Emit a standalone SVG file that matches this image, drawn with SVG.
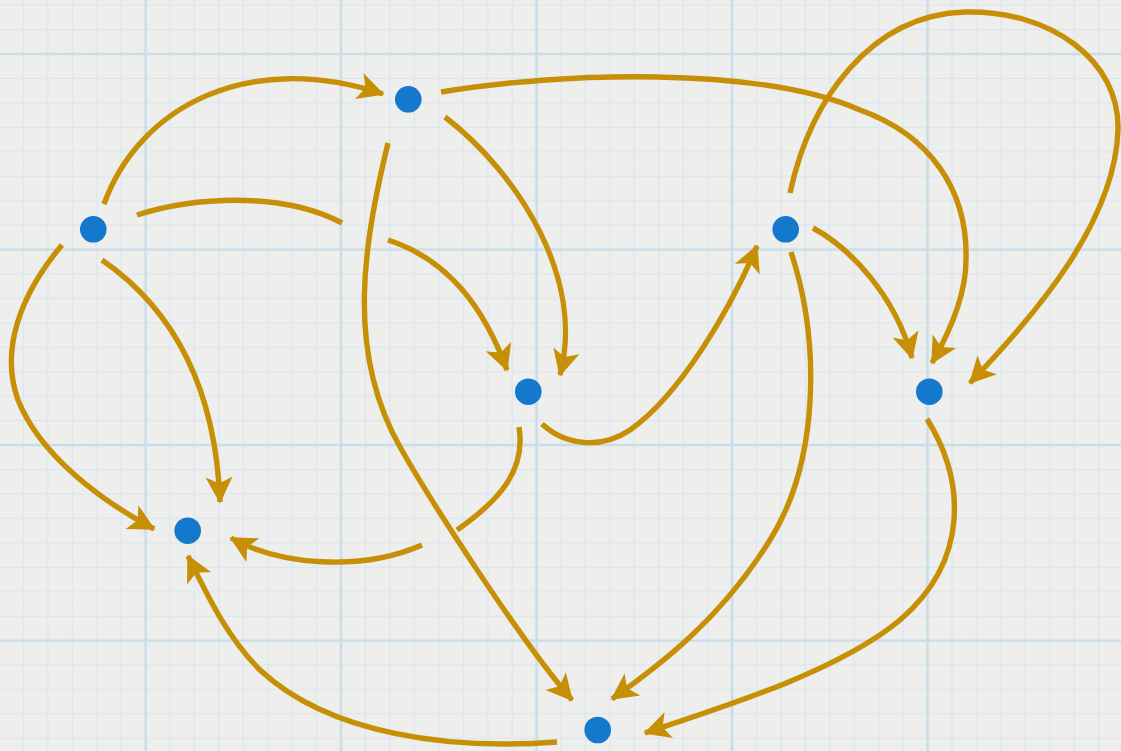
<svg xmlns="http://www.w3.org/2000/svg" width="1121" height="751" viewBox="0 0 1121 751">
<style>
.edge{fill:none;stroke:#C68F06;stroke-width:5.4;stroke-linecap:butt}
.arr{marker-end:url(#ah)}
.node{fill:#1478CC}
.minor{stroke:#d8e5ee;stroke-width:1.2}
.major{stroke:#c9dde9;stroke-width:2.6}
</style>
<defs>
<pattern id="grid" patternUnits="userSpaceOnUse" x="145.5" y="54" width="195.52" height="195.52">
<g class="minor">
<line x1="24.44" y1="0" x2="24.44" y2="195.52"/><line x1="48.88" y1="0" x2="48.88" y2="195.52"/><line x1="73.32" y1="0" x2="73.32" y2="195.52"/><line x1="97.76" y1="0" x2="97.76" y2="195.52"/><line x1="122.2" y1="0" x2="122.2" y2="195.52"/><line x1="146.64" y1="0" x2="146.64" y2="195.52"/><line x1="171.08" y1="0" x2="171.08" y2="195.52"/>
<line y1="24.44" x1="0" y2="24.44" x2="195.52"/><line y1="48.88" x1="0" y2="48.88" x2="195.52"/><line y1="73.32" x1="0" y2="73.32" x2="195.52"/><line y1="97.76" x1="0" y2="97.76" x2="195.52"/><line y1="122.2" x1="0" y2="122.2" x2="195.52"/><line y1="146.64" x1="0" y2="146.64" x2="195.52"/><line y1="171.08" x1="0" y2="171.08" x2="195.52"/>
</g>
<g class="major">
<line x1="0" y1="0" x2="0" y2="195.52"/><line x1="195.52" y1="0" x2="195.52" y2="195.52"/>
<line x1="0" y1="0" x2="195.52" y2="0"/><line x1="0" y1="195.52" x2="195.52" y2="195.52"/>
</g>
</pattern>
<marker id="ah" markerUnits="userSpaceOnUse" markerWidth="34" markerHeight="34" viewBox="-30 -17 34 34" refX="0" refY="0" orient="auto">
<path d="M1.5,0 L-25,-13.5 L-18.5,0 L-25,13.5 Z" fill="#C68F06"/>
</marker>
</defs>
<rect width="1121" height="751" fill="#eeeeed"/>
<rect width="1121" height="751" fill="url(#grid)"/>
<g id="connectors">
<path class="edge arr" d="M104,204 C140,105 250,50 383,94"/>
<path class="edge" d="M137,215 C190,198 280,190 342,223"/>
<path class="edge arr" d="M388,240 C450,260 485,310 507,370"/>
<path class="edge arr" d="M102,260 C160,300 215,370 220,502"/>
<path class="edge arr" d="M62,245 C20,295 0,350 18,400 C40,455 100,500 154,529"/>
<path class="edge arr" d="M445,117 C520,175 585,280 560,375"/>
<path class="edge arr" d="M388,143 C364,243 345,350 400,447 C430,500 520,640 572,700"/>
<path class="edge arr" d="M441,92 C560,72 760,66 860,110 C930,135 968,190 966,260 C966,295 948,335 932,363"/>
<path class="edge" d="M519,427 C526,470 500,500 457,530"/>
<path class="edge arr" d="M422,545 C360,572 280,565 231,538"/>
<path class="edge arr" d="M542,424 C565,445 600,450 630,430 C680,395 730,310 757,246"/>
<path class="edge arr" d="M813,228 C850,248 895,295 912,358"/>
<path class="edge arr" d="M790,193 C810,100 870,15 965,12 C1050,10 1120,60 1118,130 C1115,220 1040,310 970,383"/>
<path class="edge arr" d="M791,252 C820,340 820,460 770,540 C720,620 660,665 612,699"/>
<path class="edge arr" d="M927,419 C965,480 970,560 900,620 C840,670 730,705 645,733"/>
<path class="edge arr" d="M557,742 C450,750 330,735 260,670 C225,635 205,590 188,556"/>
</g>
<g id="nA"><circle class="node" cx="93.3" cy="229.3" r="13.3"/></g>
<g id="nB"><circle class="node" cx="408.3" cy="99.3" r="13.3"/></g>
<g id="nC"><circle class="node" cx="528.3" cy="391.7" r="13.3"/></g>
<g id="nD"><circle class="node" cx="785.7" cy="229.3" r="13.3"/></g>
<g id="nE"><circle class="node" cx="929.3" cy="391.7" r="13.3"/></g>
<g id="nF"><circle class="node" cx="187.7" cy="530.7" r="13.3"/></g>
<g id="nG"><circle class="node" cx="597.7" cy="730" r="13.3"/></g>
</svg>
